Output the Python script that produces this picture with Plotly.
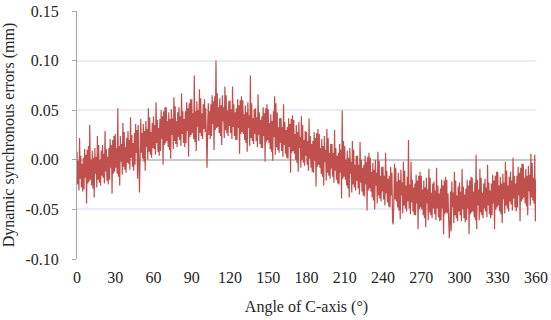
import plotly.graph_objects as go

# Angle of C-axis (degrees), one sample every half degree
angle_deg = [i * 0.5 for i in range(721)]

# Dynamic synchronous error (mm) (10 samples = 5 degrees per row)
error_mm = [
    0.008, -0.025, -0.001, -0.031, 0.022, -0.019, 0.004, -0.028, -0.004, -0.032,
    0.002, -0.030, 0.011, -0.018, 0.005, -0.044, 0.010, -0.024, 0.014, -0.022,
    0.035, -0.020, 0.000, -0.026, 0.009, -0.029, 0.002, -0.038, 0.012, -0.014,
    0.003, -0.028, 0.024, -0.020, 0.015, -0.023, 0.000, -0.026, 0.009, -0.016,
    0.015, -0.018, 0.006, -0.024, 0.029, -0.012, 0.011, -0.021, 0.003, -0.025,
    0.012, -0.020, 0.021, -0.008, 0.015, -0.034, 0.020, -0.014, 0.024, -0.012,
    0.026, -0.008, 0.012, -0.014, 0.052, -0.017, 0.014, -0.026, 0.024, -0.002,
    0.016, -0.015, 0.037, -0.007, 0.028, -0.010, 0.013, -0.013, 0.022, -0.003,
    0.029, -0.004, 0.020, -0.010, 0.043, 0.002, 0.025, -0.007, 0.017, -0.011,
    0.027, -0.005, 0.036, 0.007, 0.030, -0.019, 0.035, 0.001, -0.033, 0.003,
    0.041, 0.007, 0.027, 0.001, 0.036, -0.002, 0.029, -0.011, 0.039, 0.013,
    0.031, 0.000, 0.052, 0.008, 0.043, 0.005, 0.028, 0.002, 0.037, 0.012,
    0.044, 0.011, 0.035, 0.005, 0.058, 0.017, 0.040, 0.008, 0.032, 0.004,
    0.041, 0.009, 0.050, 0.021, 0.044, -0.005, 0.049, 0.015, 0.053, 0.017,
    0.053, 0.019, 0.039, 0.013, 0.048, 0.010, 0.041, 0.001, 0.051, 0.025,
    0.042, 0.011, 0.063, 0.019, 0.054, 0.016, 0.039, 0.013, 0.048, 0.023,
    0.053, 0.020, 0.044, 0.014, 0.067, 0.026, 0.049, 0.017, 0.041, 0.013,
    0.049, 0.017, 0.058, 0.029, 0.052, 0.003, 0.057, 0.023, 0.061, 0.025,
    0.061, 0.027, 0.047, 0.021, 0.085, 0.018, 0.049, 0.009, 0.059, 0.033,
    0.050, 0.019, 0.071, 0.027, 0.062, 0.024, 0.047, 0.021, 0.056, 0.031,
    0.061, 0.028, 0.052, 0.022, -0.008, 0.034, 0.057, 0.025, 0.049, 0.021,
    0.056, 0.024, 0.065, 0.036, 0.059, 0.010, 0.064, 0.030, 0.100, 0.032,
    0.067, 0.033, 0.053, 0.027, 0.062, 0.024, 0.055, 0.015, 0.065, 0.039,
    0.053, 0.022, 0.074, 0.030, 0.065, 0.027, 0.050, 0.024, 0.059, 0.034,
    0.060, 0.027, 0.051, 0.021, 0.074, 0.033, 0.056, 0.024, 0.048, 0.020,
    0.052, 0.020, 0.061, 0.032, 0.055, 0.006, 0.060, 0.026, 0.064, 0.028,
    0.060, 0.026, 0.046, 0.020, 0.055, 0.017, 0.048, 0.008, 0.058, 0.032,
    0.045, 0.014, 0.085, 0.022, 0.057, 0.019, 0.042, 0.016, 0.051, 0.026,
    0.052, 0.019, 0.043, 0.013, 0.066, 0.025, 0.048, 0.016, 0.040, 0.012,
    0.044, 0.012, 0.053, 0.024, 0.047, -0.002, 0.052, 0.018, 0.056, 0.020,
    0.051, 0.017, 0.037, 0.011, 0.046, 0.008, 0.039, -0.001, 0.049, 0.023,
    0.064, 0.005, 0.057, 0.013, 0.048, 0.010, 0.033, 0.007, 0.042, 0.017,
    0.042, 0.009, 0.033, 0.003, 0.056, 0.015, 0.038, 0.006, 0.030, 0.002,
    0.033, 0.001, 0.042, 0.013, 0.036, -0.013, 0.041, 0.007, 0.045, 0.009,
    0.040, 0.006, 0.026, 0.000, 0.035, -0.003, 0.028, -0.012, 0.038, 0.012,
    0.023, -0.008, 0.044, 0.000, 0.035, -0.003, 0.020, -0.006, 0.029, 0.004,
    0.028, -0.005, 0.019, -0.011, 0.042, 0.001, 0.024, -0.008, 0.016, -0.012,
    0.019, -0.013, 0.028, -0.001, 0.022, -0.027, 0.027, -0.007, 0.031, -0.005,
    0.026, -0.008, 0.012, -0.014, 0.021, -0.017, 0.014, -0.026, 0.024, -0.002,
    0.010, -0.021, 0.031, -0.013, 0.022, -0.016, 0.007, -0.019, 0.016, -0.009,
    0.016, -0.017, 0.007, -0.023, 0.030, -0.011, 0.012, -0.020, 0.004, -0.024,
    0.007, -0.025, 0.016, -0.013, 0.010, -0.039, 0.050, -0.019, 0.019, -0.017,
    0.014, -0.020, 0.000, -0.026, 0.009, -0.029, 0.002, -0.038, 0.012, -0.014,
    -0.002, -0.033, 0.019, -0.025, 0.010, -0.028, -0.005, -0.031, 0.004, -0.021,
    0.004, -0.029, -0.005, -0.035, 0.018, -0.023, 0.000, -0.032, -0.008, -0.036,
    -0.005, -0.037, 0.004, -0.025, -0.002, -0.051, 0.003, -0.031, 0.007, -0.029,
    0.002, -0.032, -0.012, -0.038, -0.003, -0.041, -0.010, -0.050, 0.000, -0.026,
    -0.013, -0.044, 0.008, -0.036, -0.001, -0.039, -0.016, -0.042, -0.007, -0.032,
    -0.007, -0.040, -0.016, -0.046, 0.007, -0.034, -0.011, -0.043, -0.019, -0.047,
    -0.016, -0.048, -0.007, -0.036, -0.013, -0.062, -0.065, -0.042, -0.004, -0.040,
    -0.008, -0.042, -0.022, -0.048, -0.013, -0.051, -0.020, -0.060, -0.010, -0.036,
    -0.023, -0.054, -0.002, -0.046, -0.011, -0.049, -0.026, -0.052, -0.017, -0.042,
    0.020, -0.049, -0.025, -0.055, -0.002, -0.043, -0.020, -0.052, -0.028, -0.056,
    -0.024, -0.056, -0.015, -0.044, -0.021, -0.070, -0.016, -0.050, -0.012, -0.048,
    -0.016, -0.050, -0.030, -0.056, -0.021, -0.059, -0.028, -0.068, -0.018, -0.044,
    -0.030, -0.061, -0.009, -0.053, -0.018, -0.056, -0.033, -0.059, -0.024, -0.049,
    -0.022, -0.055, -0.031, -0.061, -0.008, -0.049, -0.026, -0.058, -0.034, -0.062,
    -0.029, -0.061, -0.020, -0.049, -0.026, -0.075, -0.021, -0.055, -0.017, -0.053,
    -0.020, -0.054, -0.034, -0.060, -0.079, -0.063, -0.032, -0.072, -0.022, -0.048,
    -0.033, -0.064, -0.012, -0.056, -0.021, -0.059, -0.036, -0.062, -0.027, -0.052,
    -0.023, -0.056, -0.032, -0.062, -0.009, -0.050, -0.027, -0.059, -0.035, -0.063,
    -0.029, -0.061, -0.020, -0.049, -0.026, -0.075, -0.021, -0.055, -0.017, -0.053,
    -0.018, -0.052, -0.032, -0.058, -0.023, -0.061, 0.005, -0.070, -0.020, -0.046,
    -0.030, -0.061, -0.009, -0.053, -0.018, -0.056, -0.033, -0.059, -0.024, -0.049,
    -0.019, -0.052, -0.028, -0.058, -0.005, -0.046, -0.023, -0.055, -0.031, -0.059,
    -0.024, -0.056, -0.015, -0.044, -0.021, -0.070, -0.016, -0.050, -0.012, -0.048,
    -0.012, -0.046, -0.026, -0.052, -0.017, -0.055, -0.024, -0.064, -0.014, -0.040,
    -0.023, -0.054, -0.002, -0.046, -0.011, -0.049, -0.026, -0.052, -0.017, -0.042,
    -0.012, -0.045, -0.021, -0.051, 0.002, -0.039, -0.016, -0.048, -0.024, -0.052,
    -0.016, -0.048, -0.007, -0.036, -0.013, -0.062, -0.008, -0.042, -0.004, -0.040,
    -0.004, -0.038, -0.018, -0.044, -0.009, -0.047, -0.016, -0.056, -0.006, -0.032,
    -0.015, -0.046, 0.006, -0.038, -0.003, -0.041, -0.018, -0.044, 0.005, -0.062,
    -0.020,
]

x_ticks = [0, 30, 60, 90, 120, 150, 180, 210, 240, 270, 300, 330, 360]
y_ticks = [-0.10, -0.05, 0.00, 0.05, 0.10, 0.15]
y_tick_labels = ["-0.10", "-0.05", "0.00", "0.05", "0.10", "0.15"]

fig = go.Figure()
fig.add_trace(go.Scatter(
    x=angle_deg, y=error_mm, mode="lines",
    line=dict(color="#c0504d", width=1.2),
    showlegend=False, hoverinfo="skip",
))

serif = "Liberation Serif, Times New Roman, serif"
fig.update_layout(
    width=551, height=320,
    margin=dict(l=77, r=15, t=11, b=61),
    paper_bgcolor="white", plot_bgcolor="white",
    font=dict(family=serif, size=16, color="#262626"),
    xaxis=dict(
        range=[0, 360], tickvals=x_ticks, ticktext=[str(v) for v in x_ticks],
        showgrid=False, zeroline=False, showline=False, ticks="",
        ticklabelstandoff=7, automargin=False,
        title=dict(text="Angle of C-axis (°)", font=dict(size=16)),
    ),
    yaxis=dict(
        range=[-0.10, 0.15], tickvals=y_ticks, ticktext=y_tick_labels,
        showgrid=True, gridcolor="#e8ecf6", gridwidth=1.5,
        zeroline=True, zerolinecolor="#c8c8c8", zerolinewidth=1.5,
        showline=True, linecolor="#a6a6a6", linewidth=1,
        ticks="outside", ticklen=4, tickcolor="#a6a6a6",
        ticklabelstandoff=10, automargin=False,
        title=dict(text="Dynamic synchronous errors (mm)", font=dict(size=16)),
    ),
)

fig.write_html(
    "out.html",
    config={"displayModeBar": False},
    post_script="document.body.style.margin='0';document.body.style.overflow='hidden';",
)
